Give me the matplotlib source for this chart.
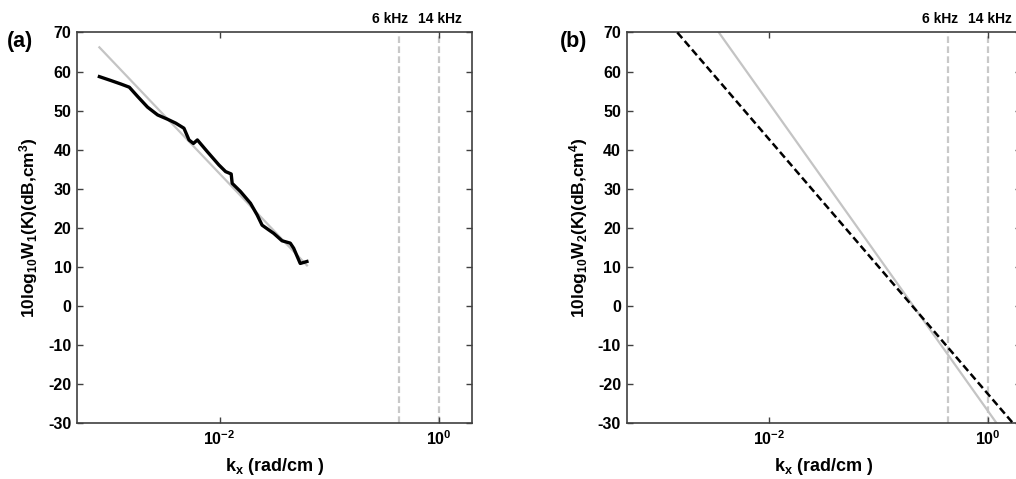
import matplotlib
matplotlib.use("Agg")
import matplotlib.pyplot as plt
from matplotlib.ticker import FixedLocator, NullLocator

plt.rcParams['font.family'] = ['Liberation Sans', 'DejaVu Sans']
plt.rcParams['font.weight'] = 'bold'
plt.rcParams['mathtext.fontset'] = 'custom'
plt.rcParams['mathtext.bf'] = 'Liberation Sans:bold'
plt.rcParams['mathtext.rm'] = 'Liberation Sans:bold'
plt.rcParams['mathtext.it'] = 'Liberation Sans:bold'
plt.rcParams['mathtext.default'] = 'bf'
plt.rcParams['axes.unicode_minus'] = False

# ---- data ----
# panel (a): measured spectrum (black) and fit (gray)
ka_meas = [8.0e-4, 1.02e-3, 1.26e-3, 1.50e-3, 1.79e-3, 2.20e-3, 2.72e-3, 3.35e-3,
           3.98e-3, 4.73e-3, 5.26e-3, 5.77e-3, 6.27e-3, 7.73e-3, 9.86e-3, 1.135e-2,
           1.276e-2, 1.303e-2, 1.552e-2, 1.914e-2, 2.203e-2, 2.443e-2, 2.805e-2,
           3.119e-2, 3.715e-2, 4.416e-2, 4.742e-2, 5.445e-2, 6.266e-2]
Wa_meas = [58.7, 57.7, 56.8, 56.0, 53.6, 50.9, 48.9, 47.8, 46.8, 45.5, 42.5, 41.6,
           42.5, 39.5, 36.1, 34.4, 33.8, 31.4, 29.3, 26.3, 23.3, 20.7, 19.5, 18.6,
           16.7, 16.1, 14.8, 10.9, 11.4]
ka_fit = [8.0e-4, 6.27e-2]
Wa_fit = [66.2, 10.4]

# panel (b): two model spectra
kb_black = [1.45e-3, 1.68]
Wb_black = [70, -30]
kb_gray = [3.47e-3, 1.19]
Wb_gray = [70, -30]

# frequency markers
freq_labels = ['6 kHz', '14 kHz']
freq_k = [0.43, 1.0]

yticks = list(range(-30, 71, 10))
xticks = [1e-2, 1e0]
xlim = (5e-4, 2.0)
ylim = (-30, 70)

label_dx = [-6, 1]  # horizontal text nudges (points)

fig = plt.figure(figsize=(10.16, 4.79), dpi=100)
W = 0.3885
axA = fig.add_axes([0.0758, 0.1163, W, 0.8159])
axB = fig.add_axes([0.6168, 0.1163, W, 0.8159])

spine_c = '#404040'
for ax in (axA, axB):
    ax.set_xscale('log')
    ax.set_xlim(*xlim)
    ax.set_ylim(*ylim)
    ax.xaxis.set_major_locator(FixedLocator(xticks))
    ax.xaxis.set_minor_locator(NullLocator())
    ax.set_yticks(yticks)
    ax.tick_params(direction='in', top=True, right=True, length=4, width=1,
                   color=spine_c, labelsize=11.5, pad=4)
    for lab in ax.get_yticklabels():
        lab.set_fontweight('bold')
    for s in ax.spines.values():
        s.set_color(spine_c)
        s.set_linewidth(1.2)
    for fl, fk, dx in zip(freq_labels, freq_k, label_dx):
        ax.axvline(fk, color='#c8c8c8', lw=1.6, ls=(0, (3, 1.5)), zorder=1)
        ax.annotate(fl, xy=(fk, 1.0), xycoords=('data', 'axes fraction'),
                    xytext=(dx, 5), textcoords='offset points',
                    ha='center', va='bottom', fontsize=10, fontweight='bold')
    ax.set_xlabel(r'k$_{\mathbf{x}}$ (rad/cm )', fontsize=13, fontweight='bold', labelpad=6)

axA.plot(ka_fit, Wa_fit, color='#c4c4c4', lw=1.6, zorder=2)
axA.plot(ka_meas, Wa_meas, color='black', lw=2.4, zorder=3)
axA.set_ylabel(r'10log$_{\mathbf{10}}$W$_{\mathbf{1}}$(K)(dB,cm$^{\mathbf{3}}$)',
               fontsize=12.5, fontweight='bold', labelpad=6)

axB.plot(kb_gray, Wb_gray, color='#c4c4c4', lw=1.6, zorder=2)
axB.plot(kb_black, Wb_black, color='black', lw=1.8, ls=(0, (3, 1.5)), zorder=3)
axB.set_ylabel(r'10log$_{\mathbf{10}}$W$_{\mathbf{2}}$(K)(dB,cm$^{\mathbf{4}}$)',
               fontsize=12.5, fontweight='bold', labelpad=6)

fig.text(0.007, 0.913, '(a)', fontsize=15.5, fontweight='bold', va='center', ha='left')
fig.text(0.551, 0.913, '(b)', fontsize=15.5, fontweight='bold', va='center', ha='left')

fig.savefig('out.png', dpi=100)
